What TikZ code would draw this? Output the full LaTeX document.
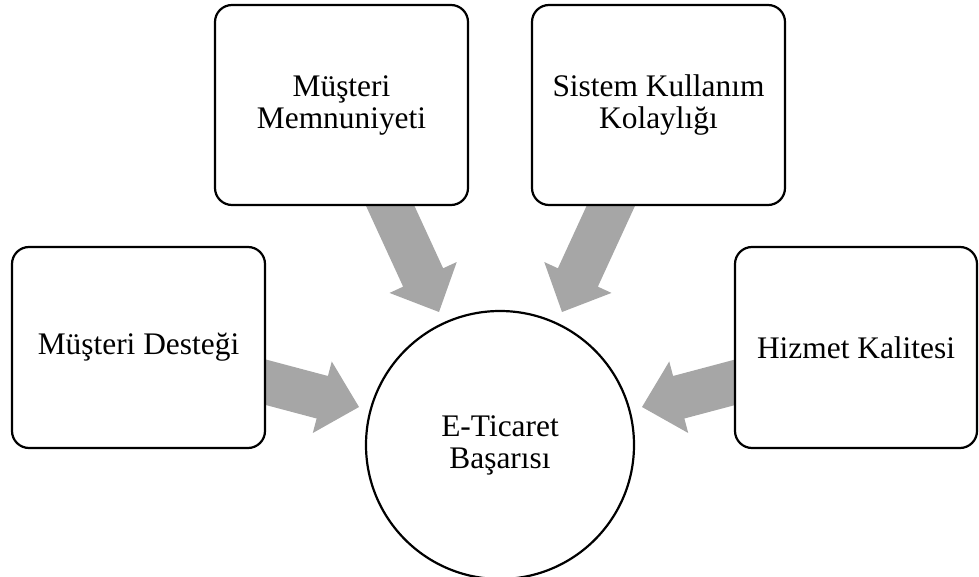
\documentclass[tikz,border=0pt]{standalone}
\usepackage{fontspec}
\setmainfont{Liberation Serif}
\usetikzlibrary{calc}
\definecolor{arrowgrey}{HTML}{A6A6A6}
\tikzset{
  boxnode/.style={draw=black, line width=2.2pt, rounded corners=17pt, fill=white,
    align=center, inner sep=0pt, font=\fontsize{31.4}{32}\selectfont},
  hubnode/.style={draw=black, line width=2.2pt, circle, fill=white,
    align=center, inner sep=0pt, minimum size=268pt, font=\fontsize{31.4}{32}\selectfont},
  blockfill/.style={fill=arrowgrey, draw=none}
}
\newcommand{\blockarrow}[2]{%
  \coordinate (hb) at ($(#2)!38pt!(#1)$);
  \fill[blockfill] ($(#1)!22pt!90:(#2)$) -- ($(hb)!22pt!-90:(#1)$) -- ($(hb)!37pt!-90:(#1)$)
    -- (#2) -- ($(hb)!37pt!90:(#1)$) -- ($(hb)!22pt!90:(#1)$) -- ($(#1)!22pt!-90:(#2)$) -- cycle;
}
\begin{document}
\begin{tikzpicture}[x=1pt,y=-1pt]
\useasboundingbox (0,0) rectangle (979,577);
% arrow coordinates
\coordinate (sL) at (246,377);  \coordinate (tL) at (359,407);
\coordinate (sTL) at (382,188); \coordinate (tTL) at (439,312);
\coordinate (sTR) at (619,188); \coordinate (tTR) at (562,312);
\coordinate (sR) at (755,377);  \coordinate (tR) at (642,407);
\blockarrow{sL}{tL}
\blockarrow{sTL}{tTL}
\blockarrow{sTR}{tTR}
\blockarrow{sR}{tR}
% nodes
\node[hubnode] (hub) at (500,445) {E-Ticaret\\Başarısı};
\node[boxnode, minimum width=253pt, minimum height=201pt] (destek) at (138.5,347.5) {Müşteri Desteği};
\node[boxnode, minimum width=253pt, minimum height=200pt] (memnun) at (341.5,105) {Müşteri\\Memnuniyeti};
\node[boxnode, minimum width=253pt, minimum height=200pt] (sistem) at (658.5,105) {Sistem Kullanım\\Kolaylığı};
\node[boxnode, minimum width=242pt, minimum height=201pt] (hizmet) at (856,347.5) {Hizmet Kalitesi};
\end{tikzpicture}
\end{document}
